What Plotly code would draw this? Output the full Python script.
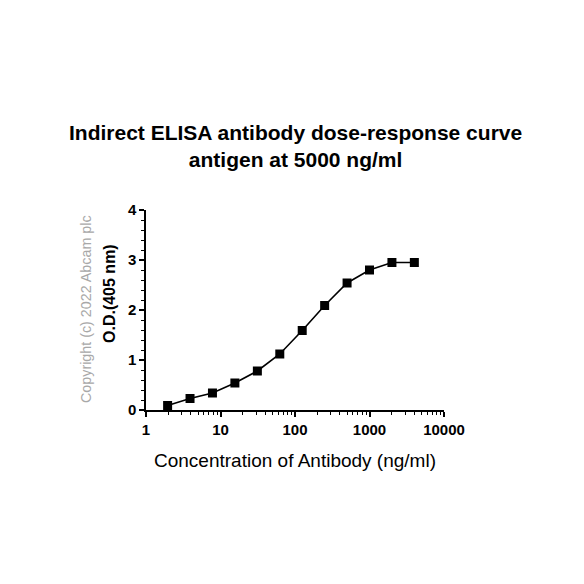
import plotly.graph_objects as go

concentration = [1.95, 3.9, 7.8, 15.6, 31.25, 62.5, 125, 250, 500, 1000, 2000, 4000]
od_405 = [0.09, 0.23, 0.34, 0.54, 0.78, 1.12, 1.59, 2.09, 2.54, 2.80, 2.95, 2.95]
x_tickvals = [1, 10, 100, 1000, 10000]
x_ticktext = ["1", "10", "100", "1000", "10000"]
y_tickvals = [0, 1, 2, 3, 4]

FONT = "Liberation Sans, Arial, sans-serif"

OFF = 8  # page body margin
W = H = 584
L, R, T, B = 146 - OFF, 444 - OFF, 210 - OFF, 410 - OFF
pw = R - L
ph = B - T


def px(x):
    return (x - OFF - L) / pw


def py(y):
    return (B - (y - OFF)) / ph


fig = go.Figure()
fig.add_trace(go.Scatter(
    x=concentration, y=od_405, mode="lines+markers",
    line=dict(color="black", width=1.6),
    marker=dict(symbol="square", size=9, color="black"),
    showlegend=False, cliponaxis=False,
))

fig.update_layout(
    width=W, height=H,
    margin=dict(l=L, r=W - R, t=T, b=H - B, pad=0),
    paper_bgcolor="white", plot_bgcolor="white",
    font=dict(family=FONT, color="black"),
    xaxis=dict(
        type="log", range=[0, 4], tickvals=x_tickvals, ticktext=x_ticktext,
        ticks="outside", ticklen=5, tickwidth=1.5, tickcolor="black",
        showline=True, linecolor="black", linewidth=1.5,
        showgrid=False, zeroline=False,
        tickfont=dict(size=15, weight="bold", family=FONT),
        minor=dict(ticks="outside", ticklen=3, tickwidth=1.2, tickcolor="black", dtick="D1", showgrid=False),
    ),
    yaxis=dict(
        range=[0, 4], tickvals=y_tickvals,
        ticks="outside", ticklen=5, tickwidth=1.5, tickcolor="black",
        showline=True, linecolor="black", linewidth=1.5,
        showgrid=False, zeroline=False,
        tickfont=dict(size=15, weight="bold", family=FONT),
        minor=dict(ticks="outside", ticklen=3, tickwidth=1.2, tickcolor="black", dtick=0.2, showgrid=False),
    ),
    annotations=[
        dict(text="<b>Indirect ELISA antibody dose-response curve</b><br><b>antigen at 5000 ng/ml</b>",
             xref="paper", yref="paper", x=px(295), y=py(146),
             xanchor="center", yanchor="middle", showarrow=False,
             font=dict(size=21, family=FONT, color="black")),
        dict(text="Concentration of Antibody (ng/ml)",
             xref="paper", yref="paper", x=px(295), y=py(460),
             xanchor="center", yanchor="middle", showarrow=False,
             font=dict(size=19, family=FONT, color="black")),
        dict(text="<b>O.D.(405 nm)</b>",
             xref="paper", yref="paper", x=px(109), y=py(294),
             xanchor="center", yanchor="middle", textangle=-90, showarrow=False,
             font=dict(size=16, family=FONT, color="black")),
        dict(text="Copyright (c) 2022 Abcam plc",
             xref="paper", yref="paper", x=px(86), y=py(309),
             xanchor="center", yanchor="middle", textangle=-90, showarrow=False,
             font=dict(size=14.3, family=FONT, color="#a8a8a8")),
    ],
)

fig.write_html("out.html")
